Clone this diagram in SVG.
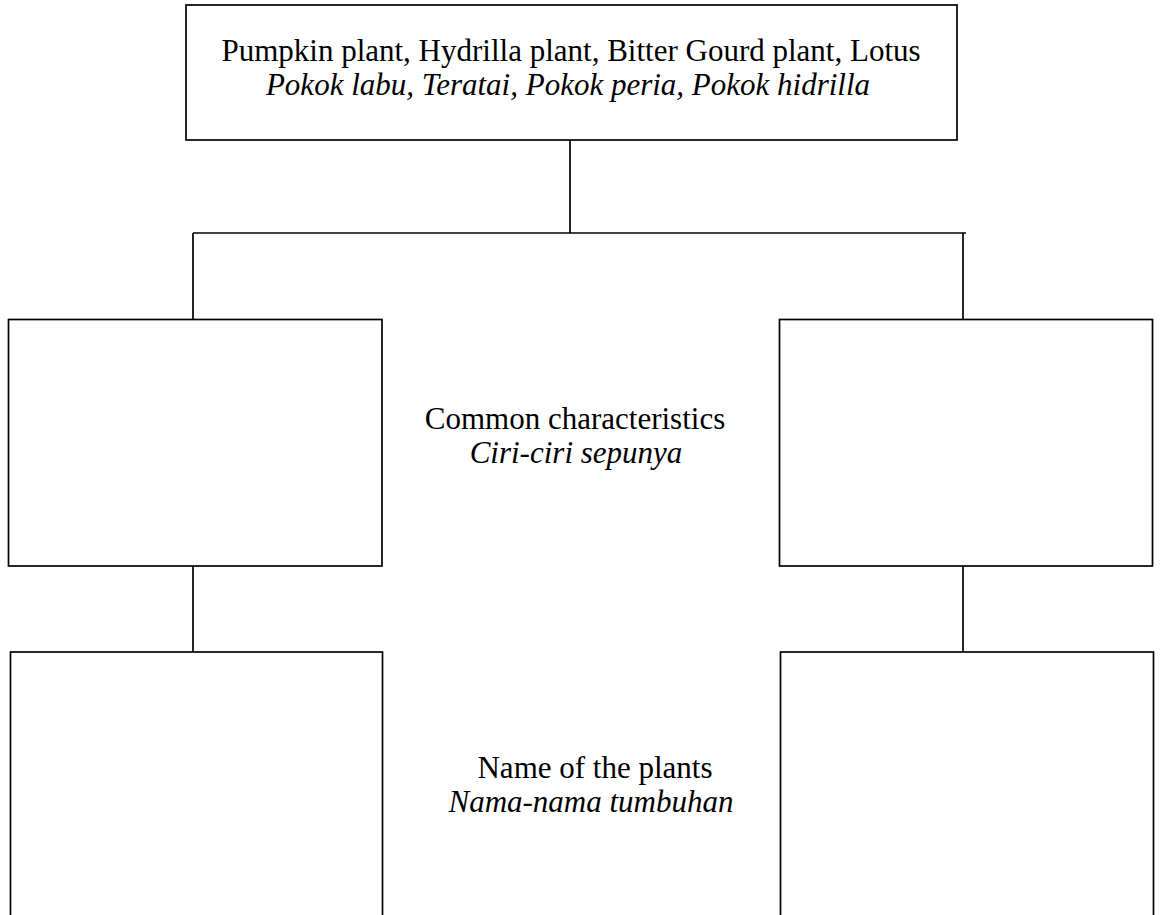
<svg xmlns="http://www.w3.org/2000/svg" width="1165" height="915" viewBox="0 0 1165 915">
  <style>
    .box { fill: #ffffff; stroke: #000000; stroke-width: 1.7; }
    .conn { stroke: #000000; stroke-width: 1.7; fill: none; }
    .t { font-family: "Liberation Serif", "Times New Roman", serif; font-size: 31px; fill: #000000; text-anchor: middle; }
    .it { font-style: italic; }
  </style>
  <rect x="0" y="0" width="1165" height="915" fill="#ffffff"/>
  <g id="connectors">
    <line class="conn" x1="570" y1="140" x2="570" y2="233"/>
    <line class="conn" x1="193" y1="233" x2="966" y2="233"/>
    <line class="conn" x1="193" y1="233" x2="193" y2="321"/>
    <line class="conn" x1="963" y1="233" x2="963" y2="321"/>
    <line class="conn" x1="193" y1="566" x2="193" y2="654"/>
    <line class="conn" x1="963" y1="566" x2="963" y2="654"/>
  </g>
  <g id="top">
    <rect class="box" x="186" y="5" width="771" height="135"/>
    <text class="t" x="571" y="61">Pumpkin plant, Hydrilla plant, Bitter Gourd plant, Lotus</text>
    <text class="t it" x="568" y="95">Pokok labu, Teratai, Pokok peria, Pokok hidrilla</text>
  </g>
  <g id="mid-left">
    <rect class="box" x="8.5" y="319.5" width="373.5" height="246.5"/>
  </g>
  <g id="mid-right">
    <rect class="box" x="779.5" y="319.5" width="373" height="246.5"/>
  </g>
  <g id="label-common">
    <text class="t" x="575" y="429">Common characteristics</text>
    <text class="t it" x="576" y="463">Ciri-ciri sepunya</text>
  </g>
  <g id="bottom-left">
    <rect class="box" x="10.5" y="652" width="372" height="280"/>
  </g>
  <g id="bottom-right">
    <rect class="box" x="780.5" y="652" width="373" height="280"/>
  </g>
  <g id="label-names">
    <text class="t" x="595" y="778">Name of the plants</text>
    <text class="t it" x="591" y="812">Nama-nama tumbuhan</text>
  </g>
</svg>
